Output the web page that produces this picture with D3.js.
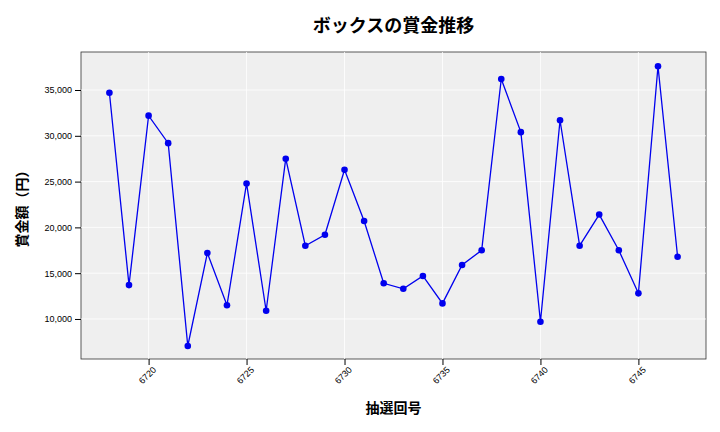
<!DOCTYPE html>
<html><head><meta charset="utf-8">
<script src="https://cdn.jsdelivr.net/npm/d3@7"></script>
<style>body{margin:0;background:#fff;font-family:"Noto Sans CJK JP","Noto Sans",sans-serif}</style>
</head><body><svg id="c" width="720" height="432"></svg>
<script>
const draws=[6718,6719,6720,6721,6722,6723,6724,6725,6726,6727,6728,6729,6730,6731,6732,6733,6734,6735,6736,6737,6738,6739,6740,6741,6742,6743,6744,6745,6746,6747];
const prizes=[34700,13700,32200,29200,7050,17200,11500,24800,10900,27500,18000,19200,26300,20700,13900,13300,14700,11700,15900,17500,36200,30400,9700,31700,18000,21400,17500,12800,37600,16800];
const xTicks=[6720,6725,6730,6735,6740,6745];
const yTicks=[10000,15000,20000,25000,30000,35000];
const svg=d3.select("#c");
const L=81,R=706,T=52,B=359;
const x=d3.scaleLinear().domain([6716.55,6748.45]).range([L,R]);
const y=d3.scaleLinear().domain([5630,39150]).range([B,T]);
svg.append("rect").attr("x",L).attr("y",T).attr("width",R-L).attr("height",B-T).attr("fill","#efefef").attr("stroke","#333").attr("stroke-width",0.8);
const g=svg.append("g");
xTicks.forEach(t=>g.append("line").attr("x1",x(t)).attr("x2",x(t)).attr("y1",T).attr("y2",B).attr("stroke","#fff").attr("stroke-width",0.8));
yTicks.forEach(t=>g.append("line").attr("x1",L).attr("x2",R).attr("y1",y(t)).attr("y2",y(t)).attr("stroke","#fff").attr("stroke-width",0.8));
const xa=svg.append("g").attr("transform",`translate(0,${B})`).call(d3.axisBottom(x).tickValues(xTicks).tickFormat(d3.format("d")).tickSizeOuter(0));
xa.select(".domain").remove();
xa.selectAll("text").attr("transform","rotate(-45)").attr("text-anchor","end").attr("dx","-0.3em").attr("dy","0.5em").style("font-size","9px");
const ya=svg.append("g").attr("transform",`translate(${L},0)`).call(d3.axisLeft(y).tickValues(yTicks).tickFormat(d3.format(",")).tickSizeOuter(0));
ya.select(".domain").remove();
ya.selectAll("text").style("font-size","9px");
const line=d3.line().x((d,i)=>x(draws[i])).y(d=>y(d));
svg.append("path").attr("d",line(prizes)).attr("fill","none").attr("stroke","#0000ee").attr("stroke-width",1.3);
svg.selectAll("circle.p").data(prizes).enter().append("circle").attr("cx",(d,i)=>x(draws[i])).attr("cy",d=>y(d)).attr("r",3.3).attr("fill","#0000ee");
svg.append("text").attr("x",(L+R)/2).attr("y",32).attr("text-anchor","middle").style("font-size","18px").style("font-weight","bold").text("ボックスの賞金推移");
svg.append("text").attr("x",(L+R)/2).attr("y",413).attr("text-anchor","middle").style("font-size","14px").style("font-weight","bold").text("抽選回号");
svg.append("text").attr("transform",`translate(27,${(T+B)/2}) rotate(-90)`).attr("text-anchor","middle").style("font-size","14px").style("font-weight","bold").text("賞金額（円）");
</script></body></html>
